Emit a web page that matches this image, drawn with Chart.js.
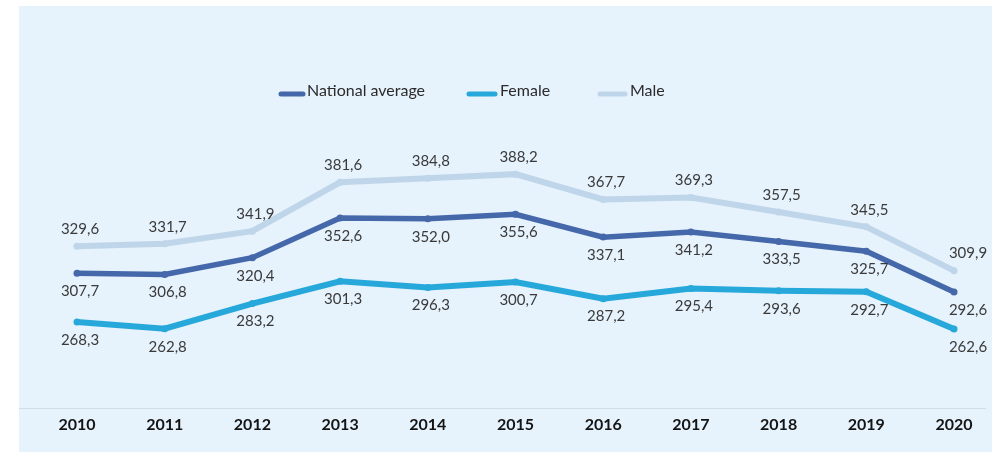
<!DOCTYPE html>
<html>
<head>
<meta charset="utf-8">
<script src="https://cdn.jsdelivr.net/npm/chart.js@4.4.0/dist/chart.umd.min.js"></script>
<style>
  html, body { margin: 0; padding: 0; background: #fff; }
  #wrap { position: absolute; left: 19px; top: 6px; width: 973px; height: 446px; background: #e6f2fc; }
</style>
</head>
<body>
<div id="wrap"><canvas id="c" width="973" height="446"></canvas></div>
<script>
const years = ['2010','2011','2012','2013','2014','2015','2016','2017','2018','2019','2020'];
const nationalAvg = [307.7, 306.8, 320.4, 352.6, 352.0, 355.6, 337.1, 341.2, 333.5, 325.7, 292.6];
const female = [268.3, 262.8, 283.2, 301.3, 296.3, 300.7, 287.2, 295.4, 293.6, 292.7, 262.6];
const male = [329.6, 331.7, 341.9, 381.6, 384.8, 388.2, 367.7, 369.3, 357.5, 345.5, 309.9];
const seriesNames = ['National average', 'Female', 'Male'];

const colNat = '#4568aa';
const colFem = '#27a8da';
const colMale = '#bfd5e9';

// value labels + bottom rule + hand-placed legend
const extras = {
  id: 'extras',
  afterDatasetsDraw(chart) {
    const ctx = chart.ctx;
    const area = chart.chartArea;
    ctx.save();
    ctx.strokeStyle = '#cfdbe5';
    ctx.lineWidth = 1;
    ctx.beginPath();
    ctx.moveTo(0, area.bottom + 2.5);
    ctx.lineTo(chart.width - 6, area.bottom + 2.5);
    ctx.stroke();

    ctx.font = '15px Lato';
    ctx.fillStyle = '#3a3a3a';
    ctx.textAlign = 'center';
    ctx.textBaseline = 'middle';
    chart.data.datasets.forEach((ds, di) => {
      const meta = chart.getDatasetMeta(di);
      meta.data.forEach((pt, i) => {
        const dx = i === ds.data.length - 1 ? 14 : 3;
        const dy = di === 2 ? -17 : 18;
        const txt = ds.data[i].toFixed(1).replace('.', ',');
        ctx.fillText(txt, pt.x + dx, pt.y + dy);
      });
    });

    // legend: sample start, sample end, text start
    const legendPos = [[260, 286, 288], [448, 478, 481], [579, 608, 611]];
    const legendY = 85;
    ctx.font = '16px Lato';
    ctx.fillStyle = '#2b2b2b';
    ctx.textAlign = 'left';
    ctx.lineCap = 'round';
    chart.data.datasets.forEach((ds, di) => {
      const p = legendPos[di];
      ctx.strokeStyle = ds.borderColor;
      ctx.lineWidth = 5;
      ctx.beginPath();
      ctx.moveTo(p[0] + 2, legendY + 3);
      ctx.lineTo(p[1] - 2, legendY + 3);
      ctx.stroke();
      ctx.fillText(ds.label, p[2], legendY);
    });
    ctx.restore();
  }
};

new Chart(document.getElementById('c'), {
  type: 'line',
  data: {
    labels: years,
    datasets: [
      { label: seriesNames[0], data: nationalAvg, borderColor: colNat, backgroundColor: colNat, borderWidth: 5.5, pointRadius: 3.5, pointBorderWidth: 0, tension: 0 },
      { label: seriesNames[1], data: female, borderColor: colFem, backgroundColor: colFem, borderWidth: 6, pointRadius: 3.5, pointBorderWidth: 0, tension: 0 },
      { label: seriesNames[2], data: male, borderColor: colMale, backgroundColor: colMale, borderWidth: 6, pointRadius: 3.5, pointBorderWidth: 0, tension: 0 }
    ]
  },
  options: {
    responsive: false,
    animation: false,
    layout: { padding: { left: 58, right: 38, top: 153.6, bottom: 8.1 } },
    plugins: { legend: { display: false }, tooltip: { enabled: false } },
    scales: {
      x: {
        offset: false,
        grid: { display: false, drawTicks: false },
        border: { display: false },
        ticks: { color: '#141414', font: { family: 'Lato', size: 16, weight: 'bold' }, padding: 9.3, maxRotation: 0 }
      },
      y: {
        display: false,
        min: 200,
        max: 400
      }
    }
  },
  plugins: [extras]
});
</script>
</body>
</html>
